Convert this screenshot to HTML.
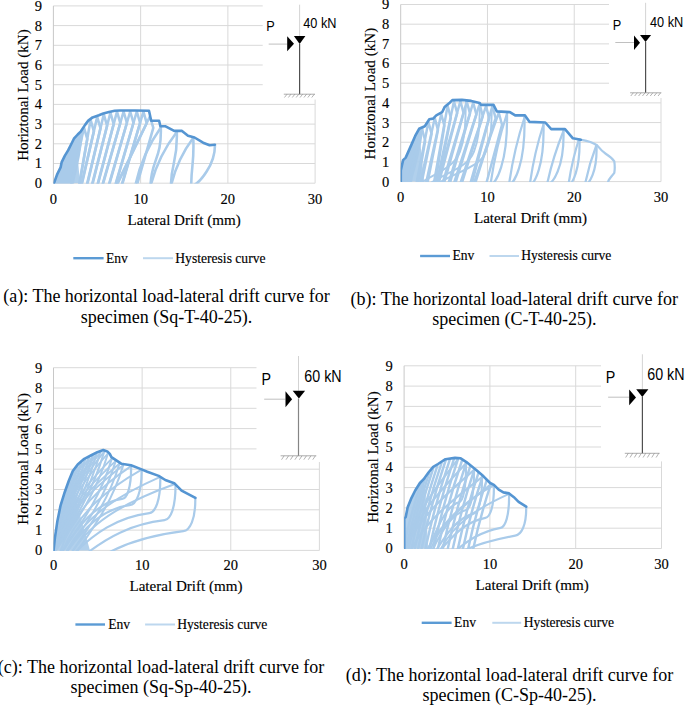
<!DOCTYPE html>
<html><head><meta charset="utf-8"><style>
html,body{margin:0;padding:0;background:#fff;overflow:hidden;}
svg{display:block;}
</style></head><body>
<svg width="685" height="705" viewBox="0 0 685 705">
<rect width="685" height="705" fill="#fff"/>
<line x1="53.40" y1="183.20" x2="315.10" y2="183.20" stroke="#d9d9d9" stroke-width="1"/>
<line x1="53.40" y1="163.50" x2="315.10" y2="163.50" stroke="#d9d9d9" stroke-width="1"/>
<line x1="53.40" y1="143.80" x2="315.10" y2="143.80" stroke="#d9d9d9" stroke-width="1"/>
<line x1="53.40" y1="124.10" x2="315.10" y2="124.10" stroke="#d9d9d9" stroke-width="1"/>
<line x1="53.40" y1="104.40" x2="315.10" y2="104.40" stroke="#d9d9d9" stroke-width="1"/>
<line x1="53.40" y1="84.70" x2="315.10" y2="84.70" stroke="#d9d9d9" stroke-width="1"/>
<line x1="53.40" y1="65.00" x2="315.10" y2="65.00" stroke="#d9d9d9" stroke-width="1"/>
<line x1="53.40" y1="45.30" x2="315.10" y2="45.30" stroke="#d9d9d9" stroke-width="1"/>
<line x1="53.40" y1="25.60" x2="315.10" y2="25.60" stroke="#d9d9d9" stroke-width="1"/>
<line x1="53.40" y1="5.90" x2="315.10" y2="5.90" stroke="#d9d9d9" stroke-width="1"/>
<line x1="53.40" y1="5.90" x2="53.40" y2="183.20" stroke="#c8c8c8" stroke-width="1"/>
<line x1="140.63" y1="5.90" x2="140.63" y2="183.20" stroke="#d9d9d9" stroke-width="1"/>
<line x1="227.87" y1="5.90" x2="227.87" y2="183.20" stroke="#d9d9d9" stroke-width="1"/>
<line x1="315.10" y1="5.90" x2="315.10" y2="183.20" stroke="#d9d9d9" stroke-width="1"/>
<clipPath id="clipa"><rect x="53.4" y="0.9000000000000004" width="261.70000000000005" height="182.79999999999998"/></clipPath>
<clipPath id="eclipa"><polygon points="53.6,183.8 53.6,182.3 54.3,181.3 57.4,172.8 60.6,166.4 61.7,161.1 64.9,154.7 68.1,149.4 71.3,143.0 73.9,137.7 77.7,133.5 80.9,130.3 85.1,123.9 88.3,119.6 92.6,116.4 98.9,114.3 103.3,112.5 109.0,111.0 114.7,109.7 120.0,109.5 135.0,109.5 149.0,109.8 151.2,119.8 159.1,119.8 160.4,125.3 165.6,125.3 174.2,129.9 182.0,129.9 188.0,134.7 194.5,136.5 203.1,141.7 209.6,144.3 214.9,143.7 254.9,143.7 254.9,183.8"/></clipPath>
<g clip-path="url(#clipa)">
<g clip-path="url(#eclipa)">
<polygon points="53.6,183.3 54.3,182.3 57.4,173.8 60.6,167.4 61.7,162.1 64.9,155.7 68.1,150.4 71.3,144.0 73.9,138.7 77.7,134.5 78.0,160.0 80.0,183.2 53.6,183.2" fill="#a9cbea" opacity="0.9"/>
<g fill="none" stroke="#a9cbea" stroke-linejoin="round" stroke-linecap="round">
<path d="M53.6,186.2 C54.4,184.2 55.1,182.1 55.5,180.0 C55.2,182.1 55.0,184.1 54.9,186.2 C55.8,183.0 56.5,179.8 56.8,176.4 C56.2,179.7 55.8,182.9 55.6,186.2 C56.8,182.0 57.6,177.7 58.1,173.4 C57.3,177.6 56.7,181.9 56.3,186.2 C57.8,181.2 58.8,176.0 59.4,170.8 C58.3,175.9 57.6,181.0 57.1,186.2 C58.9,180.2 60.1,174.1 60.7,167.9 C59.4,174.0 58.5,180.1 57.9,186.2 C60.0,178.4 61.4,170.5 62.0,162.5 C60.3,170.3 59.0,178.2 58.2,186.2 C60.7,177.6 62.4,168.8 63.3,159.9 C61.4,168.6 59.9,177.3 59.1,186.2 C61.8,176.7 63.6,167.1 64.6,157.3 C62.5,166.8 60.9,176.5 59.9,186.2 C62.8,176.0 64.8,165.6 65.9,155.0 C63.6,165.3 61.9,175.7 60.8,186.2 C63.9,175.3 66.1,164.2 67.2,152.9 C64.7,163.9 62.9,175.0 61.7,186.2 C65.0,174.5 67.3,162.7 68.5,150.6 C65.8,162.3 63.8,174.2 62.6,186.2 C66.1,173.7 68.5,161.0 69.8,148.0 C66.9,160.6 64.8,173.3 63.4,186.2 C67.2,172.8 69.8,159.2 71.1,145.4 C68.0,158.9 65.7,172.5 64.2,186.2 C68.3,172.0 71.0,157.5 72.4,142.8 C69.1,157.1 66.6,171.6 65.0,186.2 C69.3,171.1 72.2,155.7 73.7,140.1 C70.2,155.3 67.6,170.7 65.9,186.2 C70.3,170.6 73.4,154.7 75.0,138.5 C71.3,154.2 68.6,170.1 66.9,186.2 C71.5,170.1 74.6,153.7 76.3,137.0 C72.5,153.3 69.7,169.6 67.9,186.2 C72.7,169.6 75.9,152.8 77.6,135.6 C73.7,152.3 70.8,169.2 68.9,186.2 C73.8,169.2 77.1,151.9 78.9,134.3 C74.9,151.4 71.9,168.7 70.0,186.2 C75.0,168.8 78.4,151.0 80.2,133.0 C76.1,150.6 73.1,168.3 71.1,186.2 C76.2,168.2 79.7,150.0 81.5,131.4 C77.3,149.5 74.1,167.7 72.1,186.2 C77.4,167.6 80.9,148.7 82.8,129.4 C78.4,148.1 75.1,167.1 73.0,186.2" stroke-width="1.57"/>
<path d="M70.8,186.2 L84.0,127.6 L87.3,139.1 L79.2,186.2" stroke-width="2.58"/>
<path d="M78.8,186.2 L90.6,119.9 L93.9,131.4 L81.4,186.2" stroke-width="2.58"/>
<path d="M81.0,186.2 L97.2,116.9 L100.5,128.4 L86.9,186.2" stroke-width="2.58"/>
<path d="M86.5,186.2 L103.8,114.4 L107.1,125.9 L92.0,186.2" stroke-width="2.58"/>
<path d="M91.6,186.2 L110.4,112.7 L113.7,124.2 L97.4,186.2" stroke-width="2.58"/>
<path d="M97.0,186.2 L117.0,111.6 L120.3,123.1 L102.4,186.2" stroke-width="2.58"/>
<path d="M102.0,186.2 L123.6,111.5 L126.9,123.0 L108.8,186.2" stroke-width="2.58"/>
<path d="M108.4,186.2 L130.2,111.5 L133.5,123.0 L115.3,186.2" stroke-width="2.58"/>
<path d="M114.9,186.2 L136.8,111.5 L140.1,123.0 L121.7,186.2" stroke-width="2.58"/>
<path d="M121.3,186.2 L143.4,111.7 L146.7,123.2 L116.3,186.2" stroke-width="2.58"/>
<path d="M115.9,186.2 L150.0,116.3 L153.3,127.8 L136.6,186.2" stroke-width="2.58"/>
<path d="M135.2,186.2 C139.6,164.8 148.2,145.3 160.8,127.5" stroke-width="2.58"/>
<path d="M160.8,127.5 C161.8,159.8 151.0,159.8 150.5,186.2" stroke-width="2.58"/>
<path d="M150.5,186.2 C155.5,166.3 164.2,148.2 176.8,132.0" stroke-width="2.58"/>
<path d="M176.8,132.0 C177.8,161.8 171.2,161.8 170.9,186.2" stroke-width="2.58"/>
<path d="M170.9,186.2 C175.0,168.5 182.4,152.4 193.3,137.8" stroke-width="2.58"/>
<path d="M193.3,137.8 C194.3,164.4 191.3,164.4 191.2,186.2" stroke-width="2.58"/>
<path d="M214.9,144.7 C215.5,163.7 200,183.5 191.6,186.2" stroke-width="2.58"/>
</g>
</g>
<polyline points="53.6,183.3 54.3,182.3 57.4,173.8 60.6,167.4 61.7,162.1 64.9,155.7 68.1,150.4 71.3,144.0 73.9,138.7 77.7,134.5 80.9,131.3 85.1,124.9 88.3,120.6 92.6,117.4 98.9,115.3 103.3,113.5 109.0,112.0 114.7,110.7 120.0,110.5 135.0,110.5 149.0,110.8 151.2,120.8 159.1,120.8 160.4,126.3 165.6,126.3 174.2,130.9 182.0,130.9 188.0,135.7 194.5,137.5 203.1,142.7 209.6,145.3 214.9,144.7" fill="none" stroke="#5595d2" stroke-width="2.6" stroke-linejoin="round" stroke-linecap="round"/>
</g>
<rect x="262.7" y="0" width="67.30000000000001" height="99.5" fill="#fff"/>
<text x="0" y="0" transform="translate(266.19,31.3) scale(0.85,1)" style="font-family:'Liberation Sans',sans-serif;font-size:15px">P</text>
<text x="0" y="0" transform="translate(303.29,28.4) scale(0.85,1)" style="font-family:'Liberation Sans',sans-serif;font-size:15px">40 kN</text>
<line x1="299.6" y1="4.7" x2="299.6" y2="35.9" stroke="#c8c8c8" stroke-width="0.8"/>
<line x1="299.6" y1="44.0" x2="299.6" y2="94.2" stroke="#505050" stroke-width="1.2"/>
<path d="M293.9,35.9 L305.4,35.9 L299.65,44.0 Z" fill="#000"/>
<line x1="268.7" y1="44.1" x2="287.4" y2="44.1" stroke="#b0b0b0" stroke-width="0.8"/>
<path d="M287.2,36.3 L294.0,43.75 L287.2,51.2 Z" fill="#000"/>
<line x1="283.8" y1="94.2" x2="315.0" y2="94.2" stroke="#8a8a8a" stroke-width="0.7"/>
<line x1="287.05" y1="94.2" x2="284.45" y2="97.5" stroke="#8a8a8a" stroke-width="0.65"/>
<line x1="290.95" y1="94.2" x2="288.35" y2="97.5" stroke="#8a8a8a" stroke-width="0.65"/>
<line x1="294.85" y1="94.2" x2="292.25" y2="97.5" stroke="#8a8a8a" stroke-width="0.65"/>
<line x1="298.75" y1="94.2" x2="296.15" y2="97.5" stroke="#8a8a8a" stroke-width="0.65"/>
<line x1="302.65" y1="94.2" x2="300.05" y2="97.5" stroke="#8a8a8a" stroke-width="0.65"/>
<line x1="306.55" y1="94.2" x2="303.95" y2="97.5" stroke="#8a8a8a" stroke-width="0.65"/>
<line x1="310.45" y1="94.2" x2="307.85" y2="97.5" stroke="#8a8a8a" stroke-width="0.65"/>
<line x1="314.35" y1="94.2" x2="311.75" y2="97.5" stroke="#8a8a8a" stroke-width="0.65"/>
<text x="38.40" y="183.20" dy="0.34em" text-anchor="middle" style="font-family:'Liberation Serif',serif;stroke:#000;stroke-width:0.15px;font-size:14.5px">0</text>
<text x="38.40" y="163.50" dy="0.34em" text-anchor="middle" style="font-family:'Liberation Serif',serif;stroke:#000;stroke-width:0.15px;font-size:14.5px">1</text>
<text x="38.40" y="143.80" dy="0.34em" text-anchor="middle" style="font-family:'Liberation Serif',serif;stroke:#000;stroke-width:0.15px;font-size:14.5px">2</text>
<text x="38.40" y="124.10" dy="0.34em" text-anchor="middle" style="font-family:'Liberation Serif',serif;stroke:#000;stroke-width:0.15px;font-size:14.5px">3</text>
<text x="38.40" y="104.40" dy="0.34em" text-anchor="middle" style="font-family:'Liberation Serif',serif;stroke:#000;stroke-width:0.15px;font-size:14.5px">4</text>
<text x="38.40" y="84.70" dy="0.34em" text-anchor="middle" style="font-family:'Liberation Serif',serif;stroke:#000;stroke-width:0.15px;font-size:14.5px">5</text>
<text x="38.40" y="65.00" dy="0.34em" text-anchor="middle" style="font-family:'Liberation Serif',serif;stroke:#000;stroke-width:0.15px;font-size:14.5px">6</text>
<text x="38.40" y="45.30" dy="0.34em" text-anchor="middle" style="font-family:'Liberation Serif',serif;stroke:#000;stroke-width:0.15px;font-size:14.5px">7</text>
<text x="38.40" y="25.60" dy="0.34em" text-anchor="middle" style="font-family:'Liberation Serif',serif;stroke:#000;stroke-width:0.15px;font-size:14.5px">8</text>
<text x="38.40" y="5.90" dy="0.34em" text-anchor="middle" style="font-family:'Liberation Serif',serif;stroke:#000;stroke-width:0.15px;font-size:14.5px">9</text>
<text x="53.40" y="199.00" dy="0.34em" text-anchor="middle" style="font-family:'Liberation Serif',serif;stroke:#000;stroke-width:0.15px;font-size:14.5px">0</text>
<text x="140.63" y="199.00" dy="0.34em" text-anchor="middle" style="font-family:'Liberation Serif',serif;stroke:#000;stroke-width:0.15px;font-size:14.5px">10</text>
<text x="227.87" y="199.00" dy="0.34em" text-anchor="middle" style="font-family:'Liberation Serif',serif;stroke:#000;stroke-width:0.15px;font-size:14.5px">20</text>
<text x="315.10" y="199.00" dy="0.34em" text-anchor="middle" style="font-family:'Liberation Serif',serif;stroke:#000;stroke-width:0.15px;font-size:14.5px">30</text>
<text x="184.2" y="224.9" text-anchor="middle" style="font-family:'Liberation Serif',serif;stroke:#000;stroke-width:0.15px;font-size:15.1px">Lateral Drift (mm)</text>
<text transform="translate(27.9,95.05) rotate(-90)" x="0" y="0" text-anchor="middle" style="font-family:'Liberation Serif',serif;stroke:#000;stroke-width:0.15px;font-size:15.1px">Horiztonal Load (kN)</text>
<line x1="73.3" y1="258.2" x2="103.6" y2="258.2" stroke="#5b9bd5" stroke-width="2.4"/>
<text x="105.9" y="262.60" style="font-family:'Liberation Serif',serif;stroke:#000;stroke-width:0.15px;font-size:13.6px">Env</text>
<line x1="143" y1="258.2" x2="173" y2="258.2" stroke="#bdd7ee" stroke-width="2"/>
<text x="175.3" y="262.60" style="font-family:'Liberation Serif',serif;stroke:#000;stroke-width:0.15px;font-size:13.6px">Hysteresis curve</text>
<text x="166.5" y="302.1" text-anchor="middle" style="font-family:'Liberation Serif',serif;font-size:18px">(a): The horizontal load-lateral drift curve for</text>
<text x="166.5" y="322.5" text-anchor="middle" style="font-family:'Liberation Serif',serif;font-size:18px">specimen (Sq-T-40-25).</text>
<line x1="400.70" y1="181.60" x2="661.00" y2="181.60" stroke="#d9d9d9" stroke-width="1"/>
<line x1="400.70" y1="161.92" x2="661.00" y2="161.92" stroke="#d9d9d9" stroke-width="1"/>
<line x1="400.70" y1="142.24" x2="661.00" y2="142.24" stroke="#d9d9d9" stroke-width="1"/>
<line x1="400.70" y1="122.57" x2="661.00" y2="122.57" stroke="#d9d9d9" stroke-width="1"/>
<line x1="400.70" y1="102.89" x2="661.00" y2="102.89" stroke="#d9d9d9" stroke-width="1"/>
<line x1="400.70" y1="83.21" x2="661.00" y2="83.21" stroke="#d9d9d9" stroke-width="1"/>
<line x1="400.70" y1="63.53" x2="661.00" y2="63.53" stroke="#d9d9d9" stroke-width="1"/>
<line x1="400.70" y1="43.86" x2="661.00" y2="43.86" stroke="#d9d9d9" stroke-width="1"/>
<line x1="400.70" y1="24.18" x2="661.00" y2="24.18" stroke="#d9d9d9" stroke-width="1"/>
<line x1="400.70" y1="4.50" x2="661.00" y2="4.50" stroke="#d9d9d9" stroke-width="1"/>
<line x1="400.70" y1="4.50" x2="400.70" y2="181.60" stroke="#c8c8c8" stroke-width="1"/>
<line x1="487.47" y1="4.50" x2="487.47" y2="181.60" stroke="#d9d9d9" stroke-width="1"/>
<line x1="574.23" y1="4.50" x2="574.23" y2="181.60" stroke="#d9d9d9" stroke-width="1"/>
<line x1="661.00" y1="4.50" x2="661.00" y2="181.60" stroke="#d9d9d9" stroke-width="1"/>
<clipPath id="clipb"><rect x="400.7" y="-0.5" width="260.3" height="182.6"/></clipPath>
<clipPath id="eclipb"><polygon points="400.8,182.2 400.8,180.6 400.8,169.4 403.1,159.1 405.7,156.6 410.8,145.1 415.2,134.9 419.1,127.8 424.8,125.3 429.3,118.3 433.1,117.6 436.3,114.4 442.1,111.2 444.6,106.1 449.1,102.3 452.3,99.1 461.9,98.9 471.2,99.9 479.7,101.9 481.0,103.9 493.5,103.9 496.8,110.4 509.9,111.1 515.2,114.4 525.0,114.4 529.6,120.9 545.3,121.5 551.2,128.1 565.0,128.1 572.9,137.3 580.9,138.7 620.9,138.7 620.9,182.2"/></clipPath>
<g clip-path="url(#clipb)">
<g clip-path="url(#eclipb)">
<polygon points="400.8,181.6 400.8,170.4 403.1,160.1 405.7,157.6 410.8,146.1 415.2,135.9 419.1,128.8 424.0,181.6 400.8,181.6" fill="#a9cbea" opacity="0.9"/>
<g fill="none" stroke="#a9cbea" stroke-linejoin="round" stroke-linecap="round">
<path d="M400.8,184.6 C401.8,178.4 402.2,172.3 402.0,166.0 C401.2,172.2 400.8,178.4 400.8,184.6 C402.3,176.8 403.2,168.9 403.3,160.9 C402.0,168.8 401.2,176.7 400.8,184.6 C402.8,176.4 404.1,168.1 404.6,159.7 C402.8,167.9 401.6,176.2 400.8,184.6 C403.3,175.9 405.0,167.1 405.9,158.1 C403.7,166.9 402.0,175.7 400.8,184.6 C403.8,175.0 405.9,165.2 407.2,155.2 C404.7,164.9 402.7,174.7 401.3,184.6 C404.7,174.0 407.1,163.3 408.5,152.3 C405.7,162.9 403.5,173.7 402.0,184.6 C405.6,173.1 408.3,161.3 409.8,149.4 C406.7,161.0 404.3,172.7 402.6,184.6 C406.6,172.1 409.4,159.4 411.1,146.4 C407.7,159.0 405.1,171.7 403.3,184.6 C407.6,171.1 410.6,157.4 412.4,143.4 C408.7,157.0 405.9,170.7 403.9,184.6 C408.5,170.2 411.8,155.4 413.7,140.4 C409.8,154.9 406.7,169.7 404.5,184.6 C409.4,169.2 412.9,153.4 415.0,137.4 C410.8,152.9 407.5,168.7 405.2,184.6 C410.4,168.4 414.1,151.8 416.3,134.9 C411.8,151.3 408.4,167.8 405.9,184.6 C411.4,167.6 415.3,150.2 417.6,132.5 C412.9,149.7 409.3,167.0 406.7,184.6 C412.4,166.8 416.5,148.7 418.9,130.2 C414.0,148.1 410.2,166.2 407.5,184.6 C413.4,166.6 417.6,148.1 420.2,129.3 C415.2,147.5 411.3,165.9 408.6,184.6 C414.6,166.4 418.9,147.8 421.5,128.7 C416.5,147.1 412.6,165.7 409.8,184.6 C415.8,166.2 420.1,147.4 422.8,128.2 C417.7,146.7 413.8,165.6 410.9,184.6" stroke-width="1.57"/>
<path d="M407.3,184.6 L422.0,128.7 L425.2,140.7 L417.7,184.6" stroke-width="2.46"/>
<path d="M416.2,184.6 L428.4,121.9 L431.6,133.9 L421.3,184.6" stroke-width="2.46"/>
<path d="M419.8,184.6 L434.8,118.1 L438.0,130.1 L427.2,184.6" stroke-width="2.46"/>
<path d="M425.7,184.6 L441.2,113.9 L444.4,125.9 L435.1,184.6" stroke-width="2.46"/>
<path d="M433.6,184.6 L447.6,105.8 L450.8,117.8 L437.8,184.6" stroke-width="2.46"/>
<path d="M436.3,184.6 L454.0,101.3 L457.2,113.3 L438.4,184.6" stroke-width="2.46"/>
<path d="M436.9,184.6 L460.4,101.1 L463.6,113.1 L443.7,184.6" stroke-width="2.46"/>
<path d="M442.2,184.6 L466.8,101.6 L470.0,113.6 L449.5,184.6" stroke-width="2.46"/>
<path d="M448.0,184.6 L473.2,102.6 L476.4,114.6 L455.0,184.6" stroke-width="2.46"/>
<path d="M453.5,184.6 L479.6,104.1 L482.8,116.1 L461.4,184.6" stroke-width="2.46"/>
<path d="M459.9,184.6 L486.0,106.1 L489.2,118.1 L471.5,184.6" stroke-width="2.46"/>
<path d="M470.0,184.6 L492.4,106.1 L495.6,118.1 L474.8,184.6" stroke-width="2.46"/>
<path d="M473.3,184.6 L498.8,112.7 L502.0,124.7 L486.0,184.6" stroke-width="2.46"/>
<path d="M418,184.6 C438,171.6 454,167.6 460,151.6 S465,122 466,102" stroke-width="1.90"/>
<path d="M428,184.6 C448,171.6 468,167.6 474,151.6 S479,125 480,105" stroke-width="1.90"/>
<path d="M436,184.6 C456,171.6 480,167.6 486,151.6 S491,127 492,107" stroke-width="1.90"/>
<path d="M490.5,184.6 C493.9,160.4 499.4,136.7 507.0,113.5" stroke-width="2.24"/>
<path d="M507.0,113.5 C508.0,163.3 495.8,183.2 491.0,184.6" stroke-width="2.24"/>
<path d="M509.0,184.6 C512.2,161.8 517.3,139.4 524.5,117.5" stroke-width="2.24"/>
<path d="M524.5,117.5 C525.5,164.5 514.0,183.3 509.5,184.6" stroke-width="2.24"/>
<path d="M529.8,184.6 C532.6,164.2 537.1,144.1 543.5,124.5" stroke-width="2.24"/>
<path d="M543.5,124.5 C544.5,166.6 534.3,183.4 530.3,184.6" stroke-width="2.24"/>
<path d="M547.0,184.6 C550.9,166.2 556.4,148.4 563.5,131.0" stroke-width="2.24"/>
<path d="M563.5,131.0 C564.5,168.5 552.3,183.5 547.5,184.6" stroke-width="2.24"/>
<path d="M568.5,184.6 C570.8,168.6 574.4,152.9 579.5,137.5" stroke-width="2.24"/>
<path d="M579.5,137.5 C580.5,170.5 572.1,183.7 569.0,184.6" stroke-width="2.24"/>
<path d="M585.0,184.6 C587.6,171.1 591.5,157.9 596.5,145.0" stroke-width="2.24"/>
<path d="M596.5,145.0 C597.5,172.7 588.8,183.8 585.5,184.6" stroke-width="2.24"/>
<path d="M580.9,139.7 C588,141 594,143 597.8,146.1 C601,150 603,152 605.7,153.8 C609,156 612,158 614.3,161.4 C614.8,165 614.8,170 614.3,172.8 C612,176 610,178 608.6,180.4 L607,185" stroke-width="2.24"/>
</g>
</g>
<polyline points="400.8,181.6 400.8,170.4 403.1,160.1 405.7,157.6 410.8,146.1 415.2,135.9 419.1,128.8 424.8,126.3 429.3,119.3 433.1,118.6 436.3,115.4 442.1,112.2 444.6,107.1 449.1,103.3 452.3,100.1 461.9,99.9 471.2,100.9 479.7,102.9 481.0,104.9 493.5,104.9 496.8,111.4 509.9,112.1 515.2,115.4 525.0,115.4 529.6,121.9 545.3,122.5 551.2,129.1 565.0,129.1 572.9,138.3 580.9,139.7" fill="none" stroke="#5595d2" stroke-width="2.6" stroke-linejoin="round" stroke-linecap="round"/>
</g>
<rect x="609" y="0" width="76" height="98" fill="#fff"/>
<text x="0" y="0" transform="translate(612.79,29.9) scale(0.85,1)" style="font-family:'Liberation Sans',sans-serif;font-size:15px">P</text>
<text x="0" y="0" transform="translate(649.99,26.8) scale(0.85,1)" style="font-family:'Liberation Sans',sans-serif;font-size:15px">40 kN</text>
<line x1="645.6" y1="2.8" x2="645.6" y2="35.1" stroke="#c8c8c8" stroke-width="0.8"/>
<line x1="645.6" y1="42.1" x2="645.6" y2="92.8" stroke="#505050" stroke-width="1.2"/>
<path d="M640.0,35.1 L651.1,35.1 L645.55,42.1 Z" fill="#000"/>
<line x1="615.3" y1="42.5" x2="634" y2="42.5" stroke="#b0b0b0" stroke-width="0.8"/>
<path d="M634,35.4 L640.0,42.70 L634,50.0 Z" fill="#000"/>
<line x1="630.1" y1="92.8" x2="661.3" y2="92.8" stroke="#8a8a8a" stroke-width="0.7"/>
<line x1="633.35" y1="92.8" x2="630.75" y2="96" stroke="#8a8a8a" stroke-width="0.65"/>
<line x1="637.25" y1="92.8" x2="634.65" y2="96" stroke="#8a8a8a" stroke-width="0.65"/>
<line x1="641.15" y1="92.8" x2="638.55" y2="96" stroke="#8a8a8a" stroke-width="0.65"/>
<line x1="645.05" y1="92.8" x2="642.45" y2="96" stroke="#8a8a8a" stroke-width="0.65"/>
<line x1="648.95" y1="92.8" x2="646.35" y2="96" stroke="#8a8a8a" stroke-width="0.65"/>
<line x1="652.85" y1="92.8" x2="650.25" y2="96" stroke="#8a8a8a" stroke-width="0.65"/>
<line x1="656.75" y1="92.8" x2="654.15" y2="96" stroke="#8a8a8a" stroke-width="0.65"/>
<line x1="660.65" y1="92.8" x2="658.05" y2="96" stroke="#8a8a8a" stroke-width="0.65"/>
<text x="385.70" y="181.60" dy="0.34em" text-anchor="middle" style="font-family:'Liberation Serif',serif;stroke:#000;stroke-width:0.15px;font-size:14.5px">0</text>
<text x="385.70" y="161.92" dy="0.34em" text-anchor="middle" style="font-family:'Liberation Serif',serif;stroke:#000;stroke-width:0.15px;font-size:14.5px">1</text>
<text x="385.70" y="142.24" dy="0.34em" text-anchor="middle" style="font-family:'Liberation Serif',serif;stroke:#000;stroke-width:0.15px;font-size:14.5px">2</text>
<text x="385.70" y="122.57" dy="0.34em" text-anchor="middle" style="font-family:'Liberation Serif',serif;stroke:#000;stroke-width:0.15px;font-size:14.5px">3</text>
<text x="385.70" y="102.89" dy="0.34em" text-anchor="middle" style="font-family:'Liberation Serif',serif;stroke:#000;stroke-width:0.15px;font-size:14.5px">4</text>
<text x="385.70" y="83.21" dy="0.34em" text-anchor="middle" style="font-family:'Liberation Serif',serif;stroke:#000;stroke-width:0.15px;font-size:14.5px">5</text>
<text x="385.70" y="63.53" dy="0.34em" text-anchor="middle" style="font-family:'Liberation Serif',serif;stroke:#000;stroke-width:0.15px;font-size:14.5px">6</text>
<text x="385.70" y="43.86" dy="0.34em" text-anchor="middle" style="font-family:'Liberation Serif',serif;stroke:#000;stroke-width:0.15px;font-size:14.5px">7</text>
<text x="385.70" y="24.18" dy="0.34em" text-anchor="middle" style="font-family:'Liberation Serif',serif;stroke:#000;stroke-width:0.15px;font-size:14.5px">8</text>
<text x="385.70" y="4.50" dy="0.34em" text-anchor="middle" style="font-family:'Liberation Serif',serif;stroke:#000;stroke-width:0.15px;font-size:14.5px">9</text>
<text x="400.70" y="197.50" dy="0.34em" text-anchor="middle" style="font-family:'Liberation Serif',serif;stroke:#000;stroke-width:0.15px;font-size:14.5px">0</text>
<text x="487.47" y="197.50" dy="0.34em" text-anchor="middle" style="font-family:'Liberation Serif',serif;stroke:#000;stroke-width:0.15px;font-size:14.5px">10</text>
<text x="574.23" y="197.50" dy="0.34em" text-anchor="middle" style="font-family:'Liberation Serif',serif;stroke:#000;stroke-width:0.15px;font-size:14.5px">20</text>
<text x="661.00" y="197.50" dy="0.34em" text-anchor="middle" style="font-family:'Liberation Serif',serif;stroke:#000;stroke-width:0.15px;font-size:14.5px">30</text>
<text x="530.5" y="222.9" text-anchor="middle" style="font-family:'Liberation Serif',serif;stroke:#000;stroke-width:0.15px;font-size:15.1px">Lateral Drift (mm)</text>
<text transform="translate(374.9,93.65) rotate(-90)" x="0" y="0" text-anchor="middle" style="font-family:'Liberation Serif',serif;stroke:#000;stroke-width:0.15px;font-size:15.1px">Horiztonal Load (kN)</text>
<line x1="420.1" y1="256" x2="450" y2="256" stroke="#5b9bd5" stroke-width="2.4"/>
<text x="452.5" y="260.40" style="font-family:'Liberation Serif',serif;stroke:#000;stroke-width:0.15px;font-size:13.6px">Env</text>
<line x1="489.5" y1="256" x2="519" y2="256" stroke="#bdd7ee" stroke-width="2"/>
<text x="521.2" y="260.40" style="font-family:'Liberation Serif',serif;stroke:#000;stroke-width:0.15px;font-size:13.6px">Hysteresis curve</text>
<text x="514.3" y="305.0" text-anchor="middle" style="font-family:'Liberation Serif',serif;font-size:18px">(b): The horizontal load-lateral drift curve for</text>
<text x="514.3" y="325.0" text-anchor="middle" style="font-family:'Liberation Serif',serif;font-size:18px">specimen (C-T-40-25).</text>
<line x1="53.50" y1="550.40" x2="319.40" y2="550.40" stroke="#d9d9d9" stroke-width="1"/>
<line x1="53.50" y1="530.10" x2="319.40" y2="530.10" stroke="#d9d9d9" stroke-width="1"/>
<line x1="53.50" y1="509.80" x2="319.40" y2="509.80" stroke="#d9d9d9" stroke-width="1"/>
<line x1="53.50" y1="489.50" x2="319.40" y2="489.50" stroke="#d9d9d9" stroke-width="1"/>
<line x1="53.50" y1="469.20" x2="319.40" y2="469.20" stroke="#d9d9d9" stroke-width="1"/>
<line x1="53.50" y1="448.90" x2="319.40" y2="448.90" stroke="#d9d9d9" stroke-width="1"/>
<line x1="53.50" y1="428.60" x2="319.40" y2="428.60" stroke="#d9d9d9" stroke-width="1"/>
<line x1="53.50" y1="408.30" x2="319.40" y2="408.30" stroke="#d9d9d9" stroke-width="1"/>
<line x1="53.50" y1="388.00" x2="319.40" y2="388.00" stroke="#d9d9d9" stroke-width="1"/>
<line x1="53.50" y1="367.70" x2="319.40" y2="367.70" stroke="#d9d9d9" stroke-width="1"/>
<line x1="53.50" y1="367.70" x2="53.50" y2="550.40" stroke="#c8c8c8" stroke-width="1"/>
<line x1="142.13" y1="367.70" x2="142.13" y2="550.40" stroke="#d9d9d9" stroke-width="1"/>
<line x1="230.77" y1="367.70" x2="230.77" y2="550.40" stroke="#d9d9d9" stroke-width="1"/>
<line x1="319.40" y1="367.70" x2="319.40" y2="550.40" stroke="#d9d9d9" stroke-width="1"/>
<clipPath id="clipc"><rect x="53.5" y="362.7" width="265.9" height="188.2"/></clipPath>
<clipPath id="eclipc"><polygon points="53.6,551.0 53.6,549.1 54.9,536.9 57.3,520.6 60.6,504.3 64.7,491.2 68.8,479.8 72.8,470.0 77.7,463.5 84.3,457.8 90.8,454.5 97.3,451.2 103.3,449.1 107.3,450.4 109.8,452.9 111.4,456.1 121.2,462.7 131.0,464.3 141.6,468.4 147.3,470.8 158.7,474.9 165.3,479.0 174.2,482.2 181.6,489.6 195.4,496.9 235.4,496.9 235.4,551.0"/></clipPath>
<g clip-path="url(#clipc)">
<g clip-path="url(#eclipc)">
<polygon points="53.6,550.1 54.9,537.9 57.3,521.6 60.6,505.3 64.7,492.2 68.8,480.8 73.0,490.0 80.0,515.0 90.0,550.4 53.6,550.4" fill="#a9cbea" opacity="0.9"/>
<g fill="none" stroke="#a9cbea" stroke-linejoin="round" stroke-linecap="round">
<path d="M70.0,479.1 C60.7,511.2 58.8,534.7 54.0,552.4" stroke-width="2.02"/>
<path d="M70.0,479.1 C63.6,497.4 57.2,515.7 54.0,552.4" stroke-width="1.90"/>
<path d="M73.8,470.9 C63.5,506.7 59.9,532.9 54.0,552.4" stroke-width="2.02"/>
<path d="M73.8,470.9 C65.9,491.3 58.0,511.6 54.0,552.4" stroke-width="1.90"/>
<path d="M77.6,465.8 C66.6,503.9 61.1,531.8 54.0,552.4" stroke-width="2.02"/>
<path d="M77.6,465.8 C68.2,487.5 58.7,509.1 54.0,552.4" stroke-width="1.90"/>
<path d="M81.4,462.5 C70.0,502.1 62.2,531.1 54.0,552.4" stroke-width="2.02"/>
<path d="M81.4,462.5 C70.4,485.0 59.5,507.5 54.0,552.4" stroke-width="1.90"/>
<path d="M85.2,459.5 C73.4,500.4 63.4,530.4 54.0,552.4" stroke-width="2.02"/>
<path d="M85.2,459.5 C72.7,482.8 60.2,506.0 54.0,552.4" stroke-width="1.90"/>
<path d="M89.0,457.6 C76.9,499.4 64.5,530.0 54.0,552.4" stroke-width="2.02"/>
<path d="M89.0,457.6 C75.0,481.3 61.0,505.0 54.0,552.4" stroke-width="1.90"/>
<path d="M92.8,455.7 C80.5,498.3 65.6,529.6 54.0,552.4" stroke-width="2.02"/>
<path d="M92.8,455.7 C77.3,479.9 61.8,504.0 54.0,552.4" stroke-width="1.90"/>
<path d="M96.6,453.8 C84.0,497.2 66.8,529.1 54.0,552.4" stroke-width="2.02"/>
<path d="M96.6,453.8 C79.6,478.4 62.5,503.1 54.0,552.4" stroke-width="1.90"/>
<path d="M100.4,452.3 C87.6,496.5 67.9,528.8 54.0,552.4" stroke-width="2.02"/>
<path d="M100.4,452.3 C81.8,477.3 63.3,502.4 54.0,552.4" stroke-width="1.90"/>
<path d="M104.2,451.6 C91.4,496.1 69.1,528.7 54.0,552.4" stroke-width="2.02"/>
<path d="M104.2,451.6 C84.1,476.8 64.0,502.0 54.0,552.4" stroke-width="1.90"/>
<path d="M108.0,453.3 C95.4,497.0 70.6,529.0 54.6,552.4" stroke-width="2.02"/>
<path d="M108.0,453.3 C86.4,478.1 64.8,502.8 54.0,552.4" stroke-width="1.90"/>
<path d="M111.8,458.6 C99.9,499.9 76.4,530.2 61.3,552.4" stroke-width="2.02"/>
<path d="M111.8,458.6 C88.7,482.0 65.6,505.5 54.0,552.4" stroke-width="1.90"/>
<path d="M115.6,461.1 C104.0,501.3 81.2,530.8 66.5,552.4" stroke-width="2.02"/>
<path d="M115.6,461.1 C91.0,483.9 66.3,506.8 54.0,552.4" stroke-width="1.90"/>
<path d="M119.4,463.7 C108.1,502.7 86.0,531.3 71.7,552.4" stroke-width="2.02"/>
<path d="M119.4,463.7 C93.2,485.9 67.1,508.0 54.0,552.4" stroke-width="1.90"/>
<path d="M123.2,465.2 C112.1,503.6 90.4,531.7 76.4,552.4" stroke-width="2.02"/>
<path d="M123.2,465.2 C95.5,487.0 67.8,508.8 54.0,552.4" stroke-width="1.90"/>
<path d="M131.1,466.1 C131.4,487.4 127.0,498.4 122.1,498.9 C95.1,502.1 77.0,528.3 62.0,552.4" stroke-width="2.24"/>
<path d="M131.1,466.1 C102.7,485.1 74.2,509.2 60.0,552.4" stroke-width="2.02"/>
<path d="M141.6,469.6 C141.9,492.7 136.2,504.6 129.6,505.2 C101.0,508.6 81.9,531.2 66.0,552.4" stroke-width="2.24"/>
<path d="M141.6,469.6 C109.8,487.8 77.9,511.0 62.0,552.4" stroke-width="2.02"/>
<path d="M160.3,476.9 C160.6,500.5 155.4,512.5 149.3,513.1 C115.9,517.2 93.6,534.7 75.0,552.4" stroke-width="2.24"/>
<path d="M160.3,476.9 C122.6,493.5 84.9,514.6 66.0,552.4" stroke-width="2.02"/>
<path d="M175.5,483.8 C175.8,507.4 170.6,519.6 164.5,520.2 C130.1,524.3 107.1,537.9 88.0,552.4" stroke-width="2.24"/>
<path d="M175.5,483.8 C134.1,498.9 92.7,518.1 72.0,552.4" stroke-width="2.02"/>
<path d="M195.3,498.0 C195.6,519.6 189.9,530.5 183.3,531.2 C149.9,535.2 127.6,542.9 109.0,552.4" stroke-width="2.24"/>
</g>
</g>
<polyline points="53.6,550.1 54.9,537.9 57.3,521.6 60.6,505.3 64.7,492.2 68.8,480.8 72.8,471.0 77.7,464.5 84.3,458.8 90.8,455.5 97.3,452.2 103.3,450.1 107.3,451.4 109.8,453.9 111.4,457.1 121.2,463.7 131.0,465.3 141.6,469.4 147.3,471.8 158.7,475.9 165.3,480.0 174.2,483.2 181.6,490.6 195.4,497.9" fill="none" stroke="#5595d2" stroke-width="2.6" stroke-linejoin="round" stroke-linecap="round"/>
</g>
<rect x="256.5" y="350" width="73.5" height="112" fill="#fff"/>
<text x="0" y="0" transform="translate(261.57,385.4) scale(0.85,1)" style="font-family:'Liberation Sans',sans-serif;font-size:16.8px">P</text>
<text x="0" y="0" transform="translate(304.33,381.7) scale(0.85,1)" style="font-family:'Liberation Sans',sans-serif;font-size:16.8px">60 kN</text>
<line x1="298.5" y1="356" x2="298.5" y2="390.8" stroke="#c8c8c8" stroke-width="0.8"/>
<line x1="298.5" y1="398.6" x2="298.5" y2="455.8" stroke="#858585" stroke-width="1.2"/>
<path d="M292.7,390.8 L305.1,390.8 L298.90,398.6 Z" fill="#000"/>
<line x1="264.2" y1="399.2" x2="285.5" y2="399.2" stroke="#b0b0b0" stroke-width="0.8"/>
<path d="M285.5,391.2 L292.1,399.25 L285.5,407.3 Z" fill="#000"/>
<line x1="280.6" y1="455.8" x2="316.3" y2="455.8" stroke="#8a8a8a" stroke-width="0.7"/>
<line x1="284.13" y1="455.8" x2="281.53" y2="459.7" stroke="#8a8a8a" stroke-width="0.65"/>
<line x1="288.59" y1="455.8" x2="285.99" y2="459.7" stroke="#8a8a8a" stroke-width="0.65"/>
<line x1="293.06" y1="455.8" x2="290.46" y2="459.7" stroke="#8a8a8a" stroke-width="0.65"/>
<line x1="297.52" y1="455.8" x2="294.92" y2="459.7" stroke="#8a8a8a" stroke-width="0.65"/>
<line x1="301.98" y1="455.8" x2="299.38" y2="459.7" stroke="#8a8a8a" stroke-width="0.65"/>
<line x1="306.44" y1="455.8" x2="303.84" y2="459.7" stroke="#8a8a8a" stroke-width="0.65"/>
<line x1="310.91" y1="455.8" x2="308.31" y2="459.7" stroke="#8a8a8a" stroke-width="0.65"/>
<line x1="315.37" y1="455.8" x2="312.77" y2="459.7" stroke="#8a8a8a" stroke-width="0.65"/>
<text x="38.50" y="550.40" dy="0.34em" text-anchor="middle" style="font-family:'Liberation Serif',serif;stroke:#000;stroke-width:0.15px;font-size:14.5px">0</text>
<text x="38.50" y="530.10" dy="0.34em" text-anchor="middle" style="font-family:'Liberation Serif',serif;stroke:#000;stroke-width:0.15px;font-size:14.5px">1</text>
<text x="38.50" y="509.80" dy="0.34em" text-anchor="middle" style="font-family:'Liberation Serif',serif;stroke:#000;stroke-width:0.15px;font-size:14.5px">2</text>
<text x="38.50" y="489.50" dy="0.34em" text-anchor="middle" style="font-family:'Liberation Serif',serif;stroke:#000;stroke-width:0.15px;font-size:14.5px">3</text>
<text x="38.50" y="469.20" dy="0.34em" text-anchor="middle" style="font-family:'Liberation Serif',serif;stroke:#000;stroke-width:0.15px;font-size:14.5px">4</text>
<text x="38.50" y="448.90" dy="0.34em" text-anchor="middle" style="font-family:'Liberation Serif',serif;stroke:#000;stroke-width:0.15px;font-size:14.5px">5</text>
<text x="38.50" y="428.60" dy="0.34em" text-anchor="middle" style="font-family:'Liberation Serif',serif;stroke:#000;stroke-width:0.15px;font-size:14.5px">6</text>
<text x="38.50" y="408.30" dy="0.34em" text-anchor="middle" style="font-family:'Liberation Serif',serif;stroke:#000;stroke-width:0.15px;font-size:14.5px">7</text>
<text x="38.50" y="388.00" dy="0.34em" text-anchor="middle" style="font-family:'Liberation Serif',serif;stroke:#000;stroke-width:0.15px;font-size:14.5px">8</text>
<text x="38.50" y="367.70" dy="0.34em" text-anchor="middle" style="font-family:'Liberation Serif',serif;stroke:#000;stroke-width:0.15px;font-size:14.5px">9</text>
<text x="53.50" y="565.50" dy="0.34em" text-anchor="middle" style="font-family:'Liberation Serif',serif;stroke:#000;stroke-width:0.15px;font-size:14.5px">0</text>
<text x="142.13" y="565.50" dy="0.34em" text-anchor="middle" style="font-family:'Liberation Serif',serif;stroke:#000;stroke-width:0.15px;font-size:14.5px">10</text>
<text x="230.77" y="565.50" dy="0.34em" text-anchor="middle" style="font-family:'Liberation Serif',serif;stroke:#000;stroke-width:0.15px;font-size:14.5px">20</text>
<text x="319.40" y="565.50" dy="0.34em" text-anchor="middle" style="font-family:'Liberation Serif',serif;stroke:#000;stroke-width:0.15px;font-size:14.5px">30</text>
<text x="186" y="591.4" text-anchor="middle" style="font-family:'Liberation Serif',serif;stroke:#000;stroke-width:0.15px;font-size:15.1px">Lateral Drift (mm)</text>
<text transform="translate(27.9,458.85) rotate(-90)" x="0" y="0" text-anchor="middle" style="font-family:'Liberation Serif',serif;stroke:#000;stroke-width:0.15px;font-size:15.1px">Horiztonal Load (kN)</text>
<line x1="75.4" y1="624.5" x2="105" y2="624.5" stroke="#5b9bd5" stroke-width="2.4"/>
<text x="108.2" y="628.90" style="font-family:'Liberation Serif',serif;stroke:#000;stroke-width:0.15px;font-size:13.6px">Env</text>
<line x1="145.1" y1="624.5" x2="175" y2="624.5" stroke="#bdd7ee" stroke-width="2"/>
<text x="177.2" y="628.90" style="font-family:'Liberation Serif',serif;stroke:#000;stroke-width:0.15px;font-size:13.6px">Hysteresis curve</text>
<text x="161.1" y="672.9" text-anchor="middle" style="font-family:'Liberation Serif',serif;font-size:18px">(c): The horizontal load-lateral drift curve for</text>
<text x="161.1" y="693.4" text-anchor="middle" style="font-family:'Liberation Serif',serif;font-size:18px">specimen (Sq-Sp-40-25).</text>
<line x1="404.10" y1="548.50" x2="661.50" y2="548.50" stroke="#d9d9d9" stroke-width="1"/>
<line x1="404.10" y1="528.20" x2="661.50" y2="528.20" stroke="#d9d9d9" stroke-width="1"/>
<line x1="404.10" y1="507.90" x2="661.50" y2="507.90" stroke="#d9d9d9" stroke-width="1"/>
<line x1="404.10" y1="487.60" x2="661.50" y2="487.60" stroke="#d9d9d9" stroke-width="1"/>
<line x1="404.10" y1="467.30" x2="661.50" y2="467.30" stroke="#d9d9d9" stroke-width="1"/>
<line x1="404.10" y1="447.00" x2="661.50" y2="447.00" stroke="#d9d9d9" stroke-width="1"/>
<line x1="404.10" y1="426.70" x2="661.50" y2="426.70" stroke="#d9d9d9" stroke-width="1"/>
<line x1="404.10" y1="406.40" x2="661.50" y2="406.40" stroke="#d9d9d9" stroke-width="1"/>
<line x1="404.10" y1="386.10" x2="661.50" y2="386.10" stroke="#d9d9d9" stroke-width="1"/>
<line x1="404.10" y1="365.80" x2="661.50" y2="365.80" stroke="#d9d9d9" stroke-width="1"/>
<line x1="404.10" y1="365.80" x2="404.10" y2="548.50" stroke="#c8c8c8" stroke-width="1"/>
<line x1="489.90" y1="365.80" x2="489.90" y2="548.50" stroke="#d9d9d9" stroke-width="1"/>
<line x1="575.70" y1="365.80" x2="575.70" y2="548.50" stroke="#d9d9d9" stroke-width="1"/>
<line x1="661.50" y1="365.80" x2="661.50" y2="548.50" stroke="#d9d9d9" stroke-width="1"/>
<clipPath id="clipd"><rect x="404.1" y="360.8" width="257.4" height="188.2"/></clipPath>
<clipPath id="eclipd"><polygon points="404.2,549.1 404.2,547.4 404.2,517.1 405.7,516.1 407.6,506.6 411.4,497.1 415.2,489.5 419.9,482.0 423.7,478.2 428.5,471.5 433.2,465.8 438.0,463.0 445.5,458.2 455.0,456.9 460.7,457.3 466.4,461.1 475.9,468.7 483.5,475.3 490.1,482.0 493.9,483.8 498.7,488.6 503.4,491.4 509.1,492.4 513.9,496.2 518.6,500.9 526.2,505.7 566.2,505.7 566.2,549.1"/></clipPath>
<g clip-path="url(#clipd)">
<g clip-path="url(#eclipd)">
<polygon points="404.2,548.4 404.2,518.1 405.7,517.1 407.6,507.6 411.4,498.1 415.2,490.5 419.9,483.0 423.7,479.2 426.0,500.0 428.0,548.5 404.2,548.5" fill="#a9cbea" opacity="0.9"/>
<g fill="none" stroke="#a9cbea" stroke-linejoin="round" stroke-linecap="round">
<path d="M421.0,483.2 C413.6,505.3 407.6,527.7 402.9,550.5" stroke-width="2.46"/>
<path d="M425.1,478.5 C417.2,502.1 410.7,526.1 405.7,550.5" stroke-width="2.46"/>
<path d="M429.2,473.0 C420.7,498.4 413.7,524.2 408.2,550.5" stroke-width="2.46"/>
<path d="M433.3,468.0 C424.2,495.1 416.8,522.6 411.0,550.5" stroke-width="2.46"/>
<path d="M437.4,465.6 C428.0,493.5 420.4,521.8 414.4,550.5" stroke-width="2.46"/>
<path d="M441.5,463.1 C431.8,491.7 423.9,520.9 417.8,550.5" stroke-width="2.46"/>
<path d="M445.6,460.5 C435.7,490.0 427.5,520.0 421.2,550.5" stroke-width="2.46"/>
<path d="M449.7,459.9 C439.7,489.6 431.5,519.8 425.1,550.5" stroke-width="2.46"/>
<path d="M453.8,459.4 C443.7,489.2 435.5,519.6 429.0,550.5" stroke-width="2.46"/>
<path d="M457.9,459.4 C447.8,489.3 439.6,519.6 433.2,550.5" stroke-width="2.46"/>
<path d="M457.9,459.4 C436.4,486.7 414.9,514.1 404.2,550.5" stroke-width="2.24"/>
<path d="M462.0,460.5 C452.0,490.0 443.9,520.0 437.5,550.5" stroke-width="2.46"/>
<path d="M466.1,463.2 C456.5,491.8 448.6,520.9 442.4,550.5" stroke-width="2.46"/>
<path d="M466.1,463.2 C441.3,489.4 416.6,515.6 404.2,550.5" stroke-width="2.24"/>
<path d="M470.2,466.4 C460.9,494.0 453.3,522.0 447.4,550.5" stroke-width="2.46"/>
<path d="M474.3,469.7 C465.4,496.2 458.1,523.1 452.4,550.5" stroke-width="2.46"/>
<path d="M474.3,469.7 C446.3,494.0 418.2,518.2 404.2,550.5" stroke-width="2.24"/>
<path d="M478.4,473.2 C469.9,498.5 462.9,524.3 457.5,550.5" stroke-width="2.46"/>
<path d="M482.5,476.7 C474.4,500.9 467.7,525.5 462.6,550.5" stroke-width="2.46"/>
<path d="M482.5,476.7 C453.8,498.9 425.1,521.0 410.7,550.5" stroke-width="2.24"/>
<path d="M486.6,480.7 C478.9,503.6 472.7,526.9 467.8,550.5" stroke-width="2.46"/>
<path d="M490.7,484.6 C483.5,506.2 477.5,528.2 472.9,550.5" stroke-width="2.46"/>
<path d="M490.7,484.6 C465.1,504.4 439.6,524.1 426.8,550.5" stroke-width="2.24"/>
<path d="M466.0,463.1 C466.3,488.7 462.9,501.7 459.0,502.4 C445.1,505.9 435.8,531.3 428.0,550.5" stroke-width="2.13"/>
<path d="M474.0,469.5 C474.3,495.8 470.4,509.1 466.0,510.0 C450.7,513.8 440.5,534.3 432.0,550.5" stroke-width="2.13"/>
<path d="M482.0,476.3 C482.3,500.4 478.4,512.5 474.0,513.4 C456.9,517.7 445.5,535.7 436.0,550.5" stroke-width="2.13"/>
<path d="M493.9,485.2 C494.2,506.4 490.1,517.2 485.4,517.9 C465.0,521.5 451.4,537.4 440.0,550.5" stroke-width="2.24"/>
<path d="M493.9,485.2 C468.3,499.6 442.8,517.9 430.0,550.5" stroke-width="2.02"/>
<path d="M509.1,493.8 C509.4,515.9 505.3,527.1 500.6,527.8 C480.5,531.4 467.1,541.4 456.0,550.5" stroke-width="2.24"/>
<path d="M509.1,493.8 C481.5,506.3 453.8,522.1 440.0,550.5" stroke-width="2.02"/>
<path d="M526.2,507.0 C526.5,525.7 521.2,534.8 515.2,535.7 C492.2,539.9 476.8,544.6 464.0,550.5" stroke-width="2.24"/>
</g>
</g>
<polyline points="404.2,548.4 404.2,518.1 405.7,517.1 407.6,507.6 411.4,498.1 415.2,490.5 419.9,483.0 423.7,479.2 428.5,472.5 433.2,466.8 438.0,464.0 445.5,459.2 455.0,457.9 460.7,458.3 466.4,462.1 475.9,469.7 483.5,476.3 490.1,483.0 493.9,484.8 498.7,489.6 503.4,492.4 509.1,493.4 513.9,497.2 518.6,501.9 526.2,506.7" fill="none" stroke="#5595d2" stroke-width="2.6" stroke-linejoin="round" stroke-linecap="round"/>
</g>
<rect x="601" y="350" width="84" height="111.39999999999998" fill="#fff"/>
<text x="0" y="0" transform="translate(605.67,383.4) scale(0.85,1)" style="font-family:'Liberation Sans',sans-serif;font-size:16.8px">P</text>
<text x="0" y="0" transform="translate(647.23,379.7) scale(0.85,1)" style="font-family:'Liberation Sans',sans-serif;font-size:16.8px">60 kN</text>
<line x1="642.4" y1="354.3" x2="642.4" y2="389.2" stroke="#c8c8c8" stroke-width="0.8"/>
<line x1="642.4" y1="397.0" x2="642.4" y2="453.3" stroke="#505050" stroke-width="1.2"/>
<path d="M636.2,389.2 L648.4,389.2 L642.30,397.0 Z" fill="#000"/>
<line x1="608.1" y1="397.2" x2="629.2" y2="397.2" stroke="#b0b0b0" stroke-width="0.8"/>
<path d="M629.2,389.5 L636.0,397.40 L629.2,405.3 Z" fill="#000"/>
<line x1="624.8" y1="453.3" x2="659.6" y2="453.3" stroke="#8a8a8a" stroke-width="0.7"/>
<line x1="628.27" y1="453.3" x2="625.67" y2="457.5" stroke="#8a8a8a" stroke-width="0.65"/>
<line x1="632.62" y1="453.3" x2="630.02" y2="457.5" stroke="#8a8a8a" stroke-width="0.65"/>
<line x1="636.97" y1="453.3" x2="634.38" y2="457.5" stroke="#8a8a8a" stroke-width="0.65"/>
<line x1="641.32" y1="453.3" x2="638.73" y2="457.5" stroke="#8a8a8a" stroke-width="0.65"/>
<line x1="645.67" y1="453.3" x2="643.08" y2="457.5" stroke="#8a8a8a" stroke-width="0.65"/>
<line x1="650.02" y1="453.3" x2="647.43" y2="457.5" stroke="#8a8a8a" stroke-width="0.65"/>
<line x1="654.38" y1="453.3" x2="651.78" y2="457.5" stroke="#8a8a8a" stroke-width="0.65"/>
<line x1="658.73" y1="453.3" x2="656.13" y2="457.5" stroke="#8a8a8a" stroke-width="0.65"/>
<text x="389.10" y="548.50" dy="0.34em" text-anchor="middle" style="font-family:'Liberation Serif',serif;stroke:#000;stroke-width:0.15px;font-size:14.5px">0</text>
<text x="389.10" y="528.20" dy="0.34em" text-anchor="middle" style="font-family:'Liberation Serif',serif;stroke:#000;stroke-width:0.15px;font-size:14.5px">1</text>
<text x="389.10" y="507.90" dy="0.34em" text-anchor="middle" style="font-family:'Liberation Serif',serif;stroke:#000;stroke-width:0.15px;font-size:14.5px">2</text>
<text x="389.10" y="487.60" dy="0.34em" text-anchor="middle" style="font-family:'Liberation Serif',serif;stroke:#000;stroke-width:0.15px;font-size:14.5px">3</text>
<text x="389.10" y="467.30" dy="0.34em" text-anchor="middle" style="font-family:'Liberation Serif',serif;stroke:#000;stroke-width:0.15px;font-size:14.5px">4</text>
<text x="389.10" y="447.00" dy="0.34em" text-anchor="middle" style="font-family:'Liberation Serif',serif;stroke:#000;stroke-width:0.15px;font-size:14.5px">5</text>
<text x="389.10" y="426.70" dy="0.34em" text-anchor="middle" style="font-family:'Liberation Serif',serif;stroke:#000;stroke-width:0.15px;font-size:14.5px">6</text>
<text x="389.10" y="406.40" dy="0.34em" text-anchor="middle" style="font-family:'Liberation Serif',serif;stroke:#000;stroke-width:0.15px;font-size:14.5px">7</text>
<text x="389.10" y="386.10" dy="0.34em" text-anchor="middle" style="font-family:'Liberation Serif',serif;stroke:#000;stroke-width:0.15px;font-size:14.5px">8</text>
<text x="389.10" y="365.80" dy="0.34em" text-anchor="middle" style="font-family:'Liberation Serif',serif;stroke:#000;stroke-width:0.15px;font-size:14.5px">9</text>
<text x="404.10" y="564.10" dy="0.34em" text-anchor="middle" style="font-family:'Liberation Serif',serif;stroke:#000;stroke-width:0.15px;font-size:14.5px">0</text>
<text x="489.90" y="564.10" dy="0.34em" text-anchor="middle" style="font-family:'Liberation Serif',serif;stroke:#000;stroke-width:0.15px;font-size:14.5px">10</text>
<text x="575.70" y="564.10" dy="0.34em" text-anchor="middle" style="font-family:'Liberation Serif',serif;stroke:#000;stroke-width:0.15px;font-size:14.5px">20</text>
<text x="661.50" y="564.10" dy="0.34em" text-anchor="middle" style="font-family:'Liberation Serif',serif;stroke:#000;stroke-width:0.15px;font-size:14.5px">30</text>
<text x="532.1" y="589.5" text-anchor="middle" style="font-family:'Liberation Serif',serif;stroke:#000;stroke-width:0.15px;font-size:15.1px">Lateral Drift (mm)</text>
<text transform="translate(378.3,457.05) rotate(-90)" x="0" y="0" text-anchor="middle" style="font-family:'Liberation Serif',serif;stroke:#000;stroke-width:0.15px;font-size:15.1px">Horiztonal Load (kN)</text>
<line x1="421.7" y1="622.8" x2="451.6" y2="622.8" stroke="#5b9bd5" stroke-width="2.4"/>
<text x="454.1" y="627.20" style="font-family:'Liberation Serif',serif;stroke:#000;stroke-width:0.15px;font-size:13.6px">Env</text>
<line x1="492.3" y1="622.8" x2="521.2" y2="622.8" stroke="#bdd7ee" stroke-width="2"/>
<text x="523.8" y="627.20" style="font-family:'Liberation Serif',serif;stroke:#000;stroke-width:0.15px;font-size:13.6px">Hysteresis curve</text>
<text x="509.5" y="680.7" text-anchor="middle" style="font-family:'Liberation Serif',serif;font-size:18px">(d): The horizontal load-lateral drift curve for</text>
<text x="509.5" y="701.0" text-anchor="middle" style="font-family:'Liberation Serif',serif;font-size:18px">specimen (C-Sp-40-25).</text>
</svg>
</body></html>
